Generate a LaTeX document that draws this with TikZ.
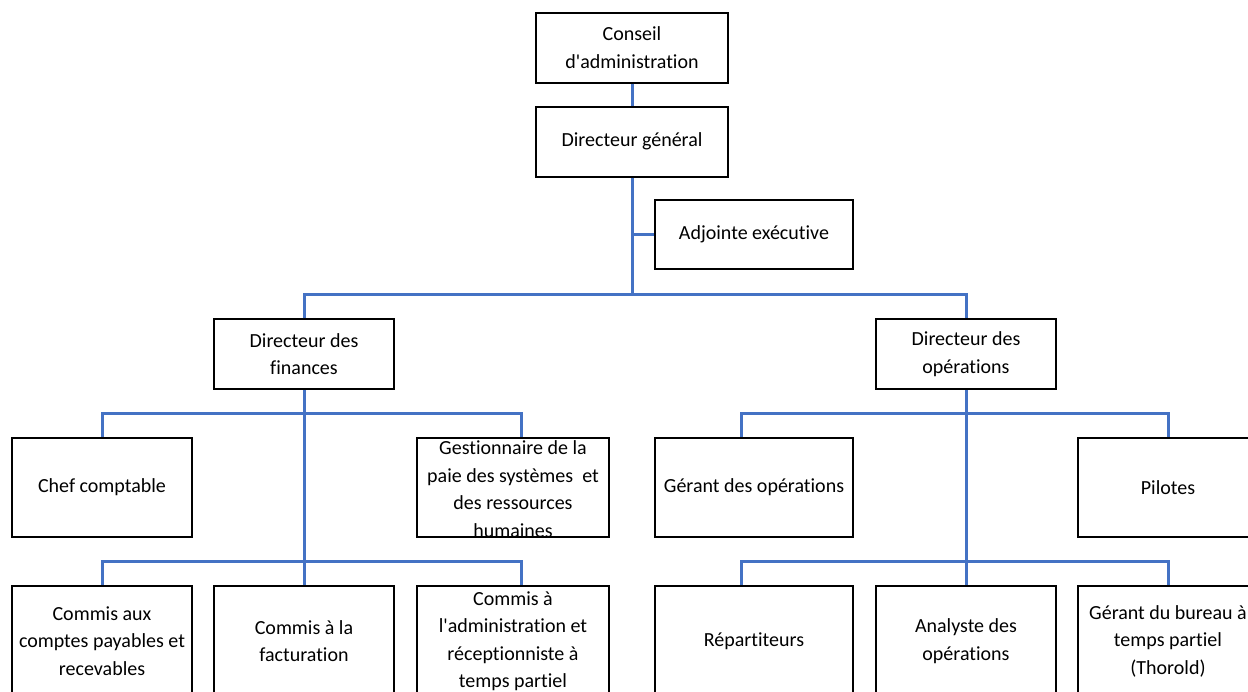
\documentclass[tikz,border=0pt]{standalone}
\usepackage{fontspec}
\setmainfont{Carlito}[Ligatures={NoCommon}]
\usepackage{tikz}
\usetikzlibrary{positioning, calc}
\definecolor{linkblue}{HTML}{4472C4}

\begin{document}
\begin{tikzpicture}[
  x=1pt, y=-1pt,
  post/.style={draw, line width=2pt, inner sep=0pt, align=center, minimum width=180pt, minimum height=70pt, font=\fontsize{20}{27.5}\selectfont},
  posttext/.style={inner sep=0pt, align=center, font=\fontsize{20}{27.5}\selectfont},
  link/.style={draw=linkblue, line width=3pt}
]
\useasboundingbox (0,0) rectangle (1248,691);
\clip (0,0) rectangle (1248,691);

\node[post, minimum width=192pt] (conseil) at (632,47.7) {Conseil\\d\textquotesingle administration};
\node[post, minimum width=192pt] (dg) at (632,141.7) {Directeur général};
\node[post, minimum width=198pt, minimum height=69pt] (adjointe) at (754,234.5) {Adjointe exécutive};
\node[post] (dfin) at (304,354.3) {Directeur des\\finances};
\node[post] (dops) at (966,354.3) {Directeur des\\opérations};

\node[post, minimum height=99pt] (chef) at (102,487.2) {Chef comptable};
\node[post, minimum width=192pt, minimum height=99pt] (gest) at (513,487.2) {};
\node[posttext] (gesttext) at ([yshift=-1.8pt]gest.center) {Gestionnaire de la\\paie des systèmes\ \ et\\des ressources\\humaines};
\node[post, minimum width=198pt, minimum height=99pt] (gerops) at (754,487.2) {Gérant des opérations};
\node[post, minimum height=99pt] (pilotes) at (1168,487.2) {Pilotes};

\node[post, minimum height=110pt] (cpay) at (102,641) {Commis aux\\comptes payables et\\recevables};
\node[post, minimum height=110pt] (cfact) at (304,641) {Commis à la\\facturation};
\node[post, minimum width=192pt, minimum height=110pt] (cadm) at (513,641) {Commis à\\l\textquotesingle administration et\\réceptionniste à\\temps partiel};
\node[post, minimum width=198pt, minimum height=110pt] (repart) at (754,641) {Répartiteurs};
\node[post, minimum height=110pt] (analyste) at (966,641) {Analyste des\\opérations};
\node[post, minimum height=110pt] (gbureau) at (1168,641) {Gérant du bureau à\\temps partiel\\(Thorold)};

\coordinate (hub) at (632,294);
\coordinate (fin3) at (304,413.3);
\coordinate (fin4) at (304,561.7);
\coordinate (ops3) at (966,413.3);
\coordinate (ops4) at (966,561.7);

\draw[link] (conseil) -- (dg);
\draw[link] (dg) -- (hub);
\draw[link] (hub |- adjointe.west) -- (adjointe.west);
\draw[link] (dfin.north) |- (hub) -| (dops.north);

\draw[link] (dfin) -- (cfact);
\draw[link] (chef.north) |- (fin3) -| ([xshift=8pt]gest.north);
\draw[link] (cpay.north) |- (fin4) -| ([xshift=8pt]cadm.north);

\draw[link] (dops) -- (analyste);
\draw[link] ([xshift=-13pt]gerops.north) |- (ops3) -| (pilotes.north);
\draw[link] ([xshift=-13pt]repart.north) |- (ops4) -| (gbureau.north);
\end{tikzpicture}
\end{document}
